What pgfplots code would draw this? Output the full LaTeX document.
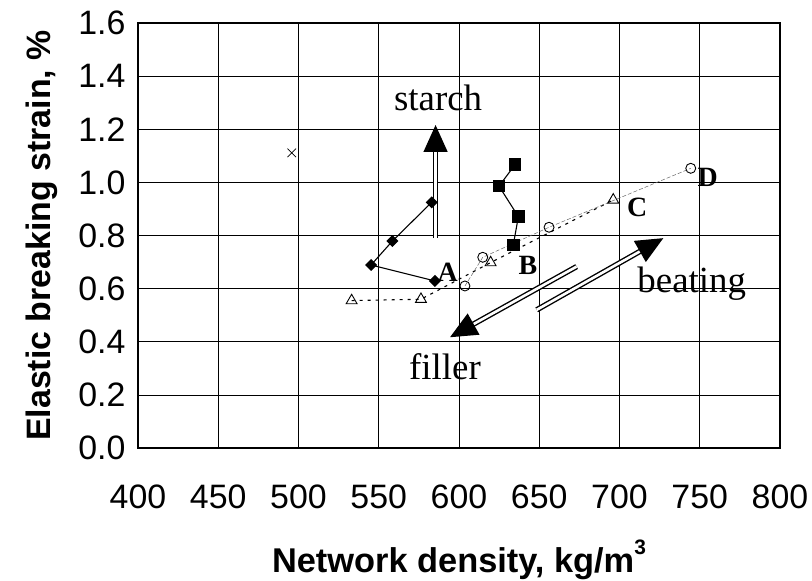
\documentclass[border=0pt]{standalone}
\usepackage{fontspec}
\setmainfont{Liberation Sans}
\newfontfamily\timesfont{Liberation Serif}
\usepackage{pgfplots}
\pgfplotsset{compat=1.18}
\usetikzlibrary{arrows.meta}

\begin{document}
\begin{tikzpicture}
\begin{axis}[
  at={(0,0)}, anchor=south west,
  scale only axis, width=642bp, height=425bp,
  xmin=400, xmax=800, ymin=0, ymax=1.6,
  xtick={400,450,500,550,600,650,700,750,800},
  ytick={0,0.2,0.4,0.6,0.8,1.0,1.2,1.4,1.6},
  grid=major, major grid style={black, line width=0.7pt},
  axis line style={line width=1.3pt},
  tick style={draw=none},
  /pgf/number format/assume math mode=true,
  ticklabel style={font=\fontsize{34}{38}\selectfont},
  xticklabel style={yshift=-33bp, /pgf/number format/1000 sep={}},
  yticklabel style={xshift=-9bp, /pgf/number format/fixed, /pgf/number format/fixed zerofill, /pgf/number format/precision=1},
  xlabel={Network density, kg/m\raisebox{0.55em}{\fontsize{21}{21}\selectfont 3}},
  ylabel={Elastic breaking strain, \%},
  every axis x label/.style={at={(axis description cs:0.5,-0.294)}, anchor=base, font=\fontsize{34.5}{38}\selectfont\bfseries},
  every axis y label/.style={at={(axis description cs:-0.137,0.5)}, rotate=90, anchor=base, font=\fontsize{34}{38}\selectfont\bfseries},
]
% diamonds
\addplot[black, line width=1.1pt, mark=square*, mark size=3.7bp, mark options={rotate=45, solid}]
  coordinates {(583.0,0.925) (558.5,0.779) (545.2,0.689) (585.0,0.629)};
% squares
\addplot[black, line width=1.1pt, mark=square*, mark size=5.8bp, mark options={solid}]
  coordinates {(634.9,1.066) (624.9,0.986) (637.0,0.871) (633.8,0.764)};
% triangles
\addplot[black, line width=1.1pt, dash pattern=on 3bp off 5bp, mark=triangle, mark size=6.3bp, mark options={solid, line width=0.9pt}]
  coordinates {(533.1,0.555) (576.3,0.560) (619.7,0.698) (696.1,0.934)};
% circles
\addplot[black!60, line width=0.5pt, dash pattern=on 4bp off 2bp, mark=o, mark size=5bp, mark options={solid, black, line width=0.9pt}]
  coordinates {(603.7,0.610) (614.8,0.718) (656.1,0.831) (744.4,1.053)};
% cross
\addplot[black, only marks, mark=x, mark size=6bp, mark options={line width=0.8pt}]
  coordinates {(495.8,1.111)};

% arrows
\draw[double, double distance=2.6bp, line width=1.4bp, -{Triangle[length=27bp,width=24bp]}]
  (axis cs:585.4,0.791) -- (axis cs:585.4,1.216);
\draw[double, double distance=2.6bp, line width=1.4bp, -{Triangle[length=27bp,width=24bp]}]
  (axis cs:648.4,0.520) -- (axis cs:727.3,0.790);
\draw[double, double distance=2.6bp, line width=1.4bp, -{Triangle[length=27bp,width=24bp]}]
  (axis cs:673.3,0.683) -- (axis cs:594.4,0.417);

% labels
\node[font=\timesfont\fontsize{37}{40}\selectfont] at (axis cs:587,1.318) {starch};
\node[font=\timesfont\fontsize{37}{40}\selectfont] at (axis cs:745,0.620) {beating};
\node[font=\timesfont\fontsize{37}{40}\selectfont] at (axis cs:591.3,0.306) {filler};
\node[font=\timesfont\bfseries\fontsize{28}{30}\selectfont] at (axis cs:593,0.663) {A};
\node[font=\timesfont\bfseries\fontsize{28}{30}\selectfont] at (axis cs:643,0.689) {B};
\node[font=\timesfont\bfseries\fontsize{28}{30}\selectfont] at (axis cs:711,0.904) {C};
\node[font=\timesfont\bfseries\fontsize{28}{30}\selectfont] at (axis cs:755,1.017) {D};
\end{axis}
\pgfresetboundingbox
\path[use as bounding box] (-138bp,-133bp) rectangle (674bp,448bp);
\end{tikzpicture}
\end{document}
